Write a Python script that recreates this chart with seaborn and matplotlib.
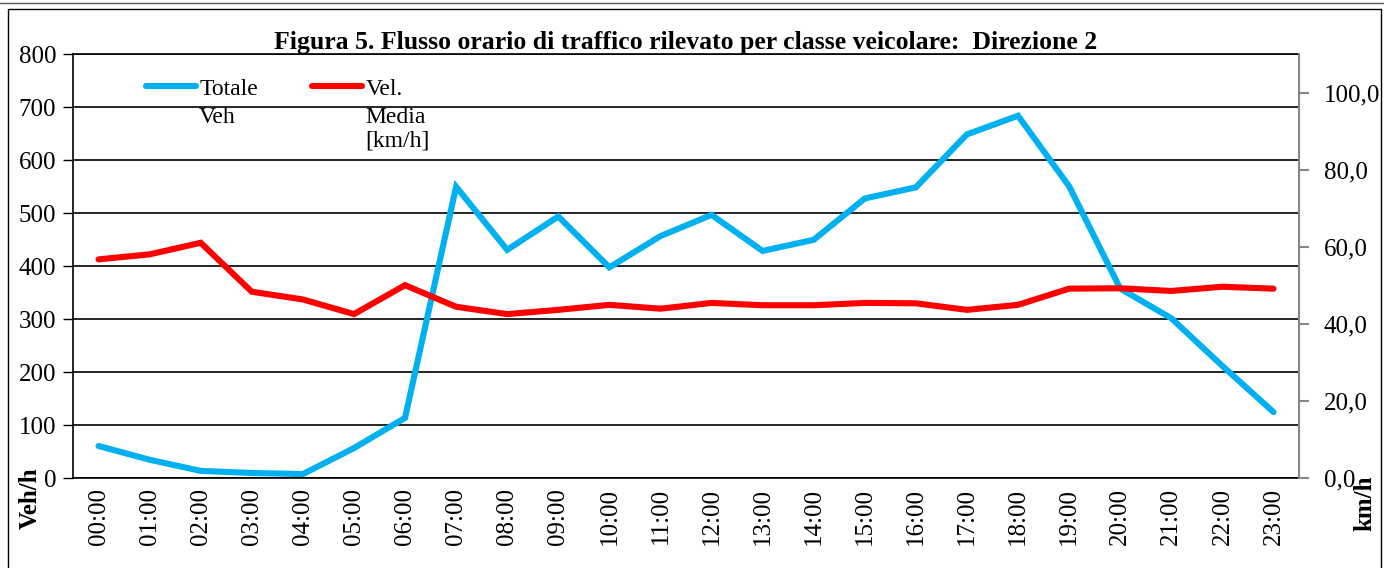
import numpy as np
import pandas as pd
import seaborn as sns
import matplotlib.pyplot as plt
from matplotlib.lines import Line2D
from matplotlib.patches import Rectangle
from matplotlib.ticker import FuncFormatter, FixedLocator

# dati
hours = [f"{h:02d}:00" for h in range(24)]
totale_veh = [61, 35, 14, 10, 8, 57, 114, 550, 431, 494, 398, 457,
              497, 429, 450, 528, 549, 649, 684, 551, 358, 302, 212, 125]
vel_media = [56.8, 58.1, 61.1, 48.4, 46.4, 42.6, 50.1, 44.5, 42.6, 43.7, 45.0, 44.0,
             45.5, 44.9, 44.9, 45.5, 45.4, 43.7, 45.0, 49.2, 49.3, 48.6, 49.7, 49.2]

title = "Figura 5. Flusso orario di traffico rilevato per classe veicolare:  Direzione 2"

df = pd.DataFrame({"ora": hours, "pos": np.arange(len(hours)),
                   "veh": totale_veh, "vel": vel_media})

sns.set_style("white")
plt.rcParams['font.family'] = ['Liberation Serif', 'DejaVu Serif']
plt.rcParams.update({"text.color": "black", "axes.labelcolor": "black",
                     "xtick.color": "black", "ytick.color": "black"})

W, H = 1384, 568
fig = plt.figure(figsize=(W / 100, H / 100), dpi=100)
ax = fig.add_axes([73 / W, 1 - 478.3 / H, (1299 - 73) / W, (478.3 - 54.3) / H])
ax2 = ax.twinx()

sns.lineplot(data=df, x="pos", y="veh", ax=ax, color="#00B0F0", linewidth=4.4,
             solid_capstyle="round", solid_joinstyle="miter", legend=False)
sns.lineplot(data=df, x="pos", y="vel", ax=ax2, color="#FF0000", linewidth=4.4,
             solid_capstyle="round", solid_joinstyle="miter", legend=False)

# asse sinistro
ax.set_ylim(0, 800)
ax.set_yticks(range(0, 801, 100))
ax.set_xlim(-0.5, len(hours) - 0.5)
ax.set_xticks(df["pos"])
ax.set_xticklabels(hours, rotation=90)
ax.xaxis.set_minor_locator(FixedLocator(np.arange(-0.5, len(hours), 1.0)))
ax.tick_params(axis="x", which="major", length=0, pad=7, labelsize=18, labelcolor="black")
ax.tick_params(axis="x", which="minor", length=8, width=1, color="black", direction="out")
ax.tick_params(axis="y", length=7, width=1, color="black", direction="out", pad=5,
               labelsize=18, labelcolor="black")
ax.yaxis.grid(True, color="black", linewidth=1.2)
ax.set_axisbelow(True)
ax.set_xlabel("")
ax.set_ylabel("")
for s in ["left", "bottom", "top"]:
    ax.spines[s].set_color("black")
    ax.spines[s].set_linewidth(1.2)
ax.spines["right"].set_visible(False)

# asse destro
ax2.set_ylim(0, 110)
ax2.set_yticks(range(0, 101, 20))
ax2.yaxis.set_major_formatter(FuncFormatter(lambda v, p: f"{v:.1f}".replace(".", ",")))
ax2.tick_params(axis="y", length=7, width=1.5, color="#868686", direction="out", pad=11,
                labelsize=18, labelcolor="black")
ax2.set_ylabel("")
for s in ["left", "bottom", "top"]:
    ax2.spines[s].set_visible(False)
ax2.spines["right"].set_color("#868686")
ax2.spines["right"].set_linewidth(1.5)

ax.set_title(title, fontsize=18.5, fontweight="bold", pad=1, color="black")

fig.text(30 / W, 1 - 498 / H, "Veh/h", rotation=90, ha="center", va="center",
         fontsize=18, fontweight="bold", color="black")
fig.text(1365 / W, 1 - 503 / H, "km/h", rotation=90, ha="center", va="center",
         fontsize=18, fontweight="bold", color="black")

# legenda
handles = [Line2D([], [], color="#00B0F0", linewidth=4.4, solid_capstyle="round"),
           Line2D([], [], color="#FF0000", linewidth=4.4, solid_capstyle="round")]
leg = ax2.legend(handles, ["Totale", "Vel."], loc="upper left",
                 bbox_to_anchor=(146 / W, 1 - 78 / H), bbox_transform=fig.transFigure,
                 ncol=2, frameon=False, fontsize=17, handlelength=2.1, labelcolor="black",
                 handletextpad=0.15, columnspacing=2.3, borderpad=0, borderaxespad=0)
texts = leg.get_texts()
for t, extra in zip(texts, ["Veh", "Media\n[km/h]"]):
    ax2.annotate(extra, xy=(0, 1), xycoords=t, xytext=(0, -28), textcoords="offset pixels",
                 ha="left", va="top", fontsize=17, linespacing=1.17, zorder=10, color="black")

# cornice
fig.add_artist(Rectangle((7.5 / W, -0.01), (1381 - 7.5) / W, (H - 9) / H + 0.01,
                         transform=fig.transFigure, fill=False, ec="black", lw=1))
fig.add_artist(Line2D([0, 1], [1 - 3 / H, 1 - 3 / H], transform=fig.transFigure,
                      color="#555555", lw=1))

fig.savefig("out.png", dpi=100)
